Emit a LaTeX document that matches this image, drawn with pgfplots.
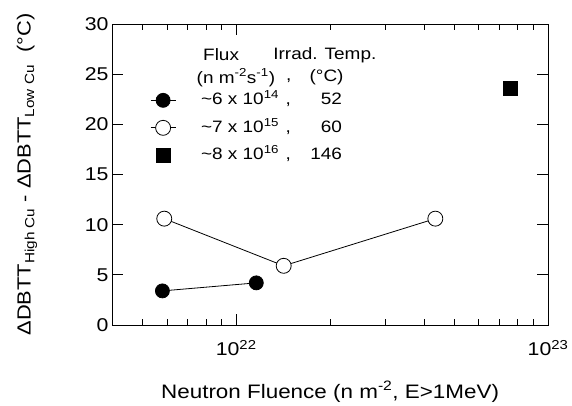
\documentclass[border=0pt]{standalone}
\usepackage{fontspec}
\setmainfont[FakeStretch=1.15]{Liberation Sans}
\usepackage{pgfplots}
\pgfplotsset{compat=1.18}
\begin{document}
\begin{tikzpicture}
\begin{axis}[
 scale only axis, width=436pt, height=301pt,
 xmode=log, xmin=4e21, xmax=1e23,
 ymin=0, ymax=30, ytick={0,5,...,30},
 xtick={1e22,1e23}, xticklabels={10\textsuperscript{22},10\textsuperscript{23}},
 minor xtick={5e21,6e21,7e21,8e21,9e21,2e22,3e22,4e22,5e22,6e22,7e22,8e22,9e22},
 tick align=inside, major tick length=11pt, minor tick length=6pt,
 axis line style={line width=1pt},
 every tick/.style={line width=0.9pt, black},
 /pgf/number format/assume math mode=true,
 tick label style={font=\fontsize{18.5}{22}\selectfont},
 xticklabel style={yshift=-12pt},
 xlabel style={font=\fontsize{19.5}{23}\selectfont, at={(axis description cs:0.5,-0.222)}, anchor=center},
 ylabel style={font=\fontsize{19}{23}\selectfont, at={(axis description cs:-0.195,0.5)}, anchor=center},
 xlabel={Neutron Fluence (n m\textsuperscript{-2}, E>1MeV)},
 ylabel={ΔDBTT\textsubscript{High Cu} - ΔDBTT\textsubscript{Low Cu}\ \ (°C)},
 legend style={at={(axis description cs:0.087,0.772)}, anchor=north west, draw=none, fill=none,
   font=\fontsize{16.5}{19}\selectfont, row sep=12.5pt, inner sep=0pt,
   nodes={inner sep=0pt, text height=12pt, text depth=3pt},
   /tikz/every odd column/.append style={column sep=25pt}},
 legend cell align=left,
 legend image code/.code={\draw[mark repeat=2,mark phase=2,#1] plot coordinates {(0pt,0pt)(12.5pt,0pt)(25pt,0pt)};},
]
\addplot[black, line width=0.8pt, mark=*, mark size=7pt, mark options={fill=black, solid}] coordinates {(5.8e21,3.4)(1.16e22,4.2)};
\addlegendentry{\hbox to 90pt{\textasciitilde6 x 10\textsuperscript{14}\hfil,}\hbox to 51pt{\hfil 52}}
\addplot[black, line width=0.8pt, mark=*, mark size=7.5pt, mark options={fill=white, solid}] coordinates {(5.88e21,10.6)(1.42e22,5.9)(4.35e22,10.6)};
\addlegendentry{\hbox to 90pt{\textasciitilde7 x 10\textsuperscript{15}\hfil,}\hbox to 51pt{\hfil 60}}
\addplot[black, only marks, mark=square*, mark size=7pt, mark options={fill=black}] coordinates {(7.55e22,23.6)};
\addlegendentry{\hbox to 90pt{\textasciitilde8 x 10\textsuperscript{16}\hfil,}\hbox to 51pt{\hfil 146}}
\node[font=\fontsize{16.5}{19}\selectfont] at (axis description cs:0.250,0.897) {Flux};
\node[font=\fontsize{16.5}{19}\selectfont] at (axis description cs:0.488,0.897) {Irrad. Temp.};
\node[font=\fontsize{16.5}{19}\selectfont] at (axis description cs:0.284,0.822) {(n m\textsuperscript{-2}s\textsuperscript{-1})};
\node[font=\fontsize{16.5}{19}\selectfont] at (axis description cs:0.405,0.813) {,};
\node[font=\fontsize{16.5}{19}\selectfont] at (axis description cs:0.492,0.822) {(°C)};
\end{axis}
\path (current axis.south west) ++(-112pt,-79pt) rectangle ++(572pt,404pt);
\end{tikzpicture}
\end{document}
